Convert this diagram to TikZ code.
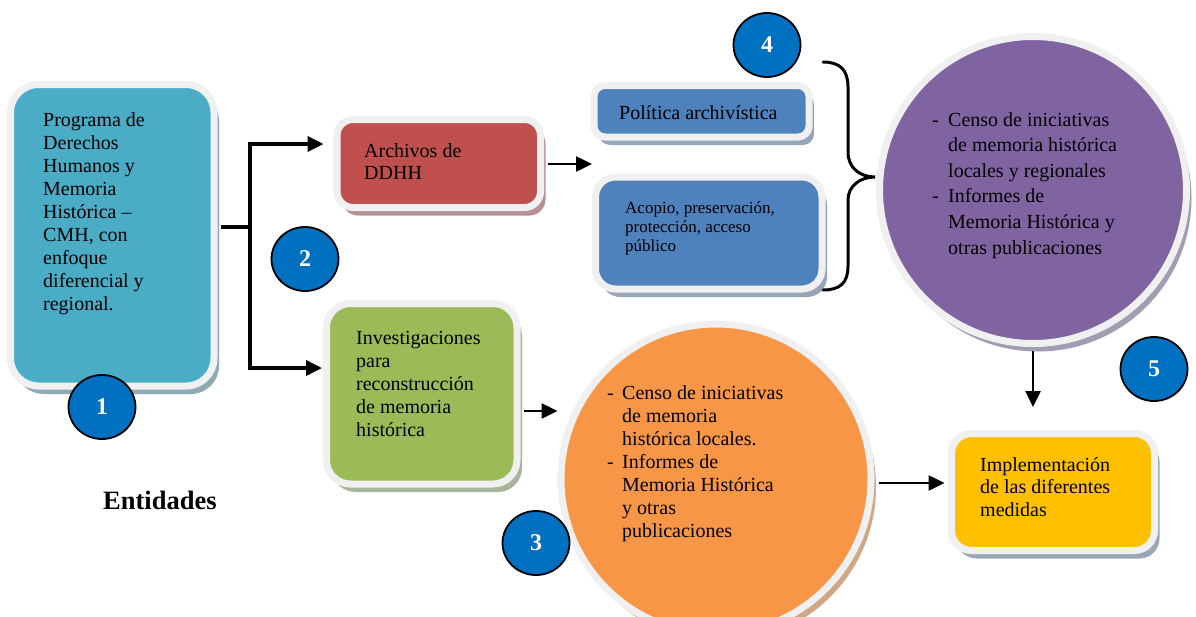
\documentclass[tikz,border=0pt]{standalone}
\usepackage{fontspec}
\setmainfont{Liberation Serif}
\usetikzlibrary{shapes.geometric,arrows.meta,shadows}
\definecolor{cteal}{HTML}{4BACC6}
\definecolor{cred}{HTML}{C0504D}
\definecolor{cblue}{HTML}{4F81BD}
\definecolor{cpurple}{HTML}{8064A2}
\definecolor{cgreen}{HTML}{9BBB59}
\definecolor{corange}{HTML}{F79646}
\definecolor{cgold}{HTML}{FFC000}
\definecolor{cnum}{HTML}{0070C0}
\definecolor{ring}{HTML}{F0F0F0}
\definecolor{steal}{HTML}{8FAAB5}
\definecolor{sred}{HTML}{B89292}
\definecolor{sblue}{HTML}{95A5BA}
\definecolor{sgreen}{HTML}{A8B59A}
\definecolor{sorange}{HTML}{D0A684}
\definecolor{sgold}{HTML}{98A6B5}
\definecolor{spurple}{HTML}{A39CB2}
\begin{document}
\begin{tikzpicture}[x=1pt,y=-1pt,
  box/.style={rectangle, draw=ring, line width=7pt, inner sep=0pt},
  disc/.style={circle, draw=ring, line width=7pt, inner sep=0pt},
  shad/.style={drop shadow={shadow xshift=5pt, shadow yshift=-8pt, fill=#1, opacity=1}},
  num/.style={ellipse, fill=cnum, draw=black, line width=1.8pt, minimum width=67pt,
    minimum height=64pt, inner sep=0pt, text=white, font=\bfseries\fontsize{24}{24}\selectfont},
  txt/.style={anchor=base west, inner sep=0pt, font=\fontsize{20}{23}\selectfont},
  arr/.style={-{Triangle[length=16pt,width=15pt]}, line width=2.5pt},
  arrT/.style={-{Triangle[length=16pt,width=15pt]}, line width=3.5pt}
]
\clip (0,0) rectangle (1196,616);
\fill[white] (0,0) rectangle (1196,616);

% boxes
\node[box, fill=cteal, shad=steal, rounded corners=28pt, minimum width=203.5pt, minimum height=301.5pt] (b1) at (112.25,235.25) {};
\node[box, fill=cred, shad=sred, rounded corners=16pt, minimum width=203.5pt, minimum height=88pt] (red) at (438.75,163.5) {};
\node[box, fill=cblue, shad=sblue, rounded corners=11pt, minimum width=215pt, minimum height=51.5pt] (pol) at (701.5,111.25) {};
\node[box, fill=cblue, shad=sblue, rounded corners=20pt, minimum width=226.5pt, minimum height=112pt] (aco) at (708.75,233) {};
\node[box, fill=cgreen, shad=sgreen, rounded corners=24pt, minimum width=190.5pt, minimum height=180.5pt] (green) at (421.75,393.75) {};
\node[box, fill=cgold, shad=sgold, rounded corners=20pt, minimum width=203pt, minimum height=117pt] (gold) at (1053,492) {};
\node[disc, fill=cpurple, shad=spurple, minimum size=307pt] (purple) at (1033,190) {};
\node[disc, fill=corange, shad=sorange, minimum size=310pt] (orange) at (716,479) {};

% connectors
\coordinate (j) at (250,227);
\coordinate (jt) at (250,144);
\coordinate (jb) at (250,368);
\coordinate (split) at (592,164);
\draw[line width=3.5pt, shorten <=3.5pt] (b1.east |- j) -- (j);
\draw[arrT, shorten >=10pt] (j) -- (jt) -- (jt -| red.west);
\draw[arrT, shorten >=1pt] (j) -- (jb) -- (jb -| green.west);
\draw[arr, shorten <=3.5pt] (red.east |- split) -- (split);
\draw[arr, shorten <=3.5pt] (green.east |- 0,411) -- (orange.west |- 0,411);
\draw[arr, shorten <=4pt, shorten >=3.5pt] (orange.east |- 0,483) -- (gold.west |- 0,483);
\draw[arr, shorten <=4pt, shorten >=23pt] (purple.south) -- (purple.south |- gold.north);
% brace
\draw[line width=3pt, line cap=round]
  (823,62) .. controls (840,62) and (848,70) .. (848,87) -- (848,152)
  .. controls (848,168) and (860,177) .. (875,177)
  .. controls (860,177) and (848,186) .. (848,200) -- (848,266)
  .. controls (848,283) and (840,290) .. (823,290);

% texts
\node[txt] (t1) at (43,126) {\begin{tabular}[t]{@{}l@{}}Programa de\\Derechos\\Humanos y\\Memoria\\Histórica –\\CMH, con\\enfoque\\diferencial y\\regional.\end{tabular}};
\node[txt, font=\fontsize{20}{22}\selectfont] (t2) at (364,157) {\begin{tabular}[t]{@{}l@{}}Archivos de\\DDHH\end{tabular}};
\node[txt] (t3) at (619,119) {Política archivística};
\node[txt, font=\fontsize{17}{19}\selectfont] (t4) at (625,213) {\begin{tabular}[t]{@{}l@{}}Acopio, preservación,\\protección, acceso\\público\end{tabular}};
\node[txt, font=\fontsize{20}{25.6}\selectfont] (t5) at (932,126) {\begin{tabular}[t]{@{}l@{}}\makebox[16pt][l]{-}Censo de iniciativas\\\hspace*{16pt}de memoria histórica\\\hspace*{16pt}locales y regionales\\\makebox[16pt][l]{-}Informes de\\\hspace*{16pt}Memoria Histórica y\\\hspace*{16pt}otras publicaciones\end{tabular}};
\node[txt] (t6) at (356,344) {\begin{tabular}[t]{@{}l@{}}Investigaciones\\para\\reconstrucción\\de memoria\\histórica\end{tabular}};
\node[txt] (t7) at (607,399) {\begin{tabular}[t]{@{}l@{}}\makebox[15pt][l]{-}Censo de iniciativas\\\hspace*{15pt}de memoria\\\hspace*{15pt}histórica locales.\\\makebox[15pt][l]{-}Informes de\\\hspace*{15pt}Memoria Histórica\\\hspace*{15pt}y otras\\\hspace*{15pt}publicaciones\end{tabular}};
\node[txt, font=\fontsize{20}{22.5}\selectfont] (t8) at (980,471) {\begin{tabular}[t]{@{}l@{}}Implementación\\de las diferentes\\medidas\end{tabular}};
\node[txt, font=\bfseries\fontsize{26.5}{30}\selectfont] (ent) at (103,509) {Entidades};

% number badges
\node[num] (n1) at (102,407) {1};
\node[num] (n2) at (305,259) {2};
\node[num] (n3) at (536,543) {3};
\node[num] (n4) at (767,45) {4};
\node[num] (n5) at (1154,369) {5};
\end{tikzpicture}
\end{document}
